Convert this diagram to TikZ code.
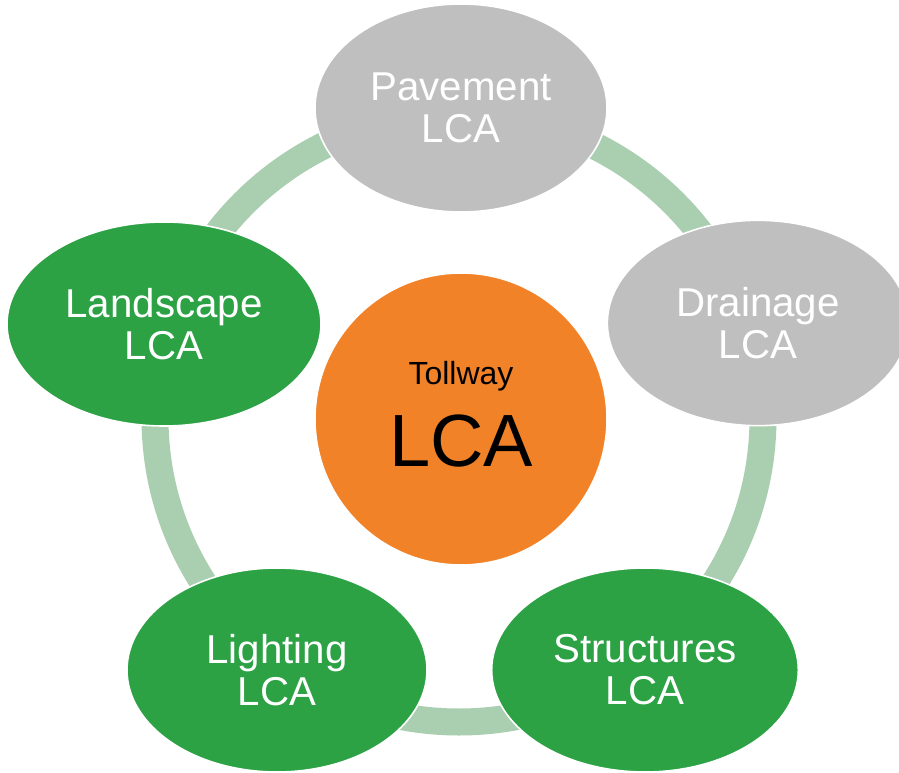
\documentclass[tikz,border=0pt]{standalone}
\usepackage{fontspec}
\setmainfont{Liberation Sans}
\usetikzlibrary{shapes.geometric}
\definecolor{ringgreen}{RGB}{169,206,176}
\definecolor{leafgreen}{RGB}{44,162,69}
\definecolor{leafgrey}{RGB}{191,191,191}
\definecolor{hub}{RGB}{242,130,40}
\tikzset{
  leaf/.style={ellipse, inner sep=0pt, draw=white, line width=1.2pt,
    text=white, align=center, font=\fontsize{30.2}{31.5}\selectfont},
  greenleaf/.style={leaf, fill=leafgreen},
  greyleaf/.style={leaf, fill=leafgrey},
  hubnode/.style={circle, inner sep=0pt, draw=white, line width=1.2pt,
    fill=hub, text=black, align=center, minimum size=219pt,
    font=\fontsize{55.5}{61.5}\selectfont}
}
\begin{document}
\begin{tikzpicture}[x=0.75pt,y=-0.75pt]
\useasboundingbox (0,0) rectangle (899,773);
\fill[white] (0,0) rectangle (899,773);
\coordinate (ringc) at (459,418);
\draw[ringgreen, line width=20.25pt] (ringc) circle [radius=228pt];
\node[greyleaf, minimum width=219pt, minimum height=156pt] (pave) at (461,108) {Pavement\\LCA};
\node[greenleaf, minimum width=235.5pt, minimum height=153pt] (land) at (164,324) {Landscape\\LCA};
\node[greyleaf, minimum width=226pt, minimum height=154pt] (drain) at (758,323) {Drainage\\LCA};
\node[greenleaf, minimum width=225pt, minimum height=153pt] (light) at (277,670) {Lighting\\LCA};
\node[greenleaf, minimum width=230pt, minimum height=153pt] (struct) at (645,670) {Structures\\LCA};
\node[hubnode] (toll) at (461,419) {{\fontsize{24}{28}\selectfont Tollway}\\LCA\rule[-8pt]{0pt}{8pt}};
\end{tikzpicture}
\end{document}
